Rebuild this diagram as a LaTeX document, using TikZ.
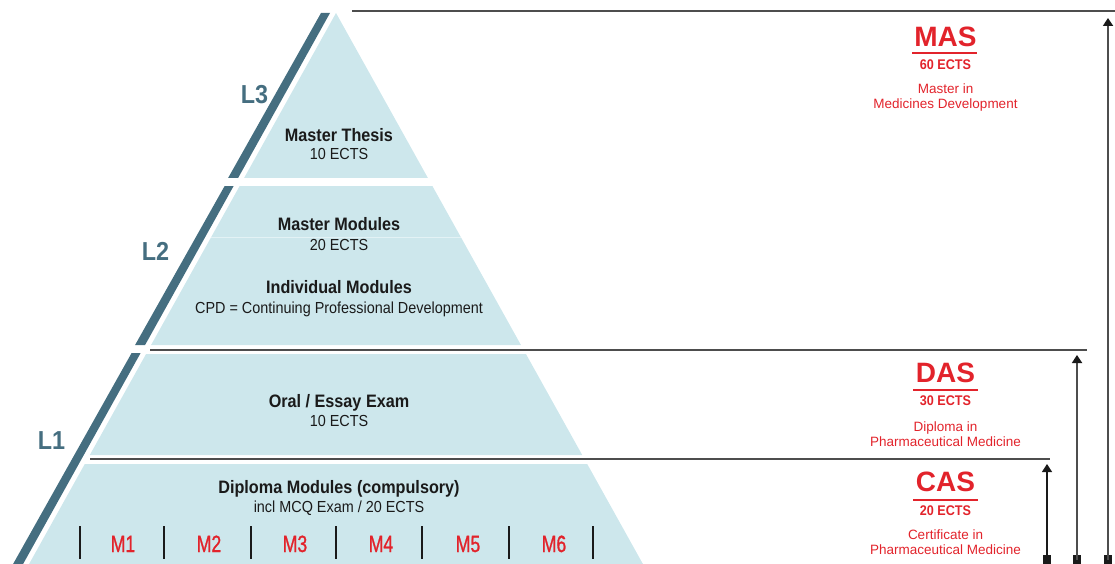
\documentclass[tikz,border=0pt]{standalone}
\usepackage{fontspec}
\setmainfont[FakeStretch=0.9]{Liberation Sans}
\newfontfamily\narrowfont[FakeStretch=0.75,FakeBold=1]{Liberation Sans}
\newfontfamily\widefont{Liberation Sans}
\usetikzlibrary{arrows.meta}
\definecolor{pyrblue}{RGB}{205,231,236}
\definecolor{lvlteal}{RGB}{69,110,128}
\definecolor{ectsred}{RGB}{226,35,43}
\definecolor{rulegray}{RGB}{77,77,77}
\definecolor{inkblack}{RGB}{26,26,26}
\tikzset{
  pyr/.style={fill=pyrblue},
  lvlbar/.style={fill=lvlteal},
  lbl/.style={inner sep=0pt, anchor=base},
  head/.style={lbl, text=inkblack, font=\bfseries\fontsize{18}{20}\selectfont},
  sub/.style={lbl, text=inkblack, font=\fontsize{16}{18}\selectfont},
  lvl/.style={lbl, text=lvlteal, font=\bfseries\fontsize{26}{28}\selectfont},
  modlbl/.style={lbl, text=ectsred, font=\narrowfont\fontsize{23.5}{25}\selectfont},
  deg/.style={lbl, text=ectsred, font=\widefont\bfseries\fontsize{28}{30}\selectfont},
  ects/.style={lbl, text=ectsred, font=\bfseries\fontsize{14}{16}\selectfont},
  degname/.style={lbl, text=ectsred, font=\widefont\fontsize{13.5}{15}\selectfont},
  hrule/.style={draw=rulegray, line width=1.5pt},
  sq/.style={fill=inkblack, minimum size=8.5pt, inner sep=0pt},
  uparr/.style={-{Triangle[length=8pt,width=10pt,color=inkblack]}, draw=rulegray, line width=1.8pt}
}
\begin{document}
\begin{tikzpicture}[x=1pt, y=-1pt]
  \useasboundingbox (0,0) rectangle (1115,564);
  % pyramid layers
  \foreach \ya/\yb in {13/178,186/345,354/455,464/564}{
    \pgfmathsetmacro\dxa{0.557*(\ya-13)}
    \pgfmathsetmacro\dxb{0.557*(\yb-13)}
    \fill[pyr] (336-\dxa,\ya) -- (336+\dxa,\ya) -- (336+\dxb,\yb) -- (336-\dxb,\yb) -- cycle;
  }
  \draw[white!45!pyrblue, line width=0.8pt] (211.2,237) -- (460.8,237);
  % level bars
  \foreach \ya/\yb in {13/178,186/345,353/564}{
    \pgfmathsetmacro\dxa{0.557*(\ya-13)}
    \pgfmathsetmacro\dxb{0.557*(\yb-13)}
    \fill[lvlbar] (336-\dxa-15,\ya) -- (336-\dxa-6,\ya) -- (336-\dxb-6,\yb) -- (336-\dxb-16,\yb) -- cycle;
  }
  \node[lvl] (l3) at (254.5,104) {L3};
  \node[lvl] (l2) at (155.5,260) {L2};
  \node[lvl] (l1) at (51.5,449.4) {L1};

  % pyramid texts
  \node[head] (thesis) at (339,142) {Master Thesis};
  \node[sub] (thesis ects) at (339,160) {10 ECTS};
  \node[head] (master mod) at (339,230) {Master Modules};
  \node[sub] (master ects) at (339,250) {20 ECTS};
  \node[head] (indiv mod) at (339,293.3) {Individual Modules};
  \node[sub] (cpd) at (339,313) {CPD = Continuing Professional Development};
  \node[head] (exam) at (339,407.3) {Oral / Essay Exam};
  \node[sub] (exam ects) at (339,426.9) {10 ECTS};
  \node[head] (diploma mod) at (339,493.2) {Diploma Modules (compulsory)};
  \node[sub] (mcq) at (339,512.4) {incl MCQ Exam / 20 ECTS};
  \foreach \x in {80,164,251,336,422,509,593}{
    \draw[inkblack, line width=1.6pt] (\x,526) -- (\x,559);
  }
  \foreach \i/\x in {1/123,2/209,3/295,4/381,5/468,6/554}{
    \node[modlbl] (m\i) at (\x,552) {M\i};
  }

  % level rules
  \draw[hrule] (352,11) -- (1115,11);
  \draw[hrule] (150,350) -- (1087,350);
  \draw[hrule] (90,459) -- (1050,459);

  % degrees
  \node[deg] (mas) at (945.5,46.7) {MAS};
  \draw[ectsred, line width=1.3pt] (912,53) -- (977,53);
  \node[ects] (mas ects) at (945.5,70) {60 ECTS};
  \node[degname] (mas name a) at (945.5,93.3) {Master in};
  \node[degname] (mas name b) at (945.5,108.3) {Medicines Development};

  \node[deg] (das) at (945.5,382) {DAS};
  \draw[ectsred, line width=1.3pt] (913,390) -- (978,390);
  \node[ects] (das ects) at (945.5,405.7) {30 ECTS};
  \node[degname] (das name a) at (945.5,431) {Diploma in};
  \node[degname] (das name b) at (945.5,446) {Pharmaceutical Medicine};

  \node[deg] (cas) at (945.5,491.5) {CAS};
  \draw[ectsred, line width=1.3pt] (913,500) -- (978,500);
  \node[ects] (cas ects) at (945.5,515.8) {20 ECTS};
  \node[degname] (cas name a) at (945.5,539.3) {Certificate in};
  \node[degname] (cas name b) at (945.5,554.5) {Pharmaceutical Medicine};

  % arrows
  \node[sq] (cas base) at (1047,559.7) {};
  \node[sq] (das base) at (1077,559.7) {};
  \node[sq] (mas base) at (1108,559.7) {};
  \coordinate (cas top) at (1047,464);
  \coordinate (das top) at (1077,355);
  \coordinate (mas top) at (1108,18);
  \draw[uparr, draw=inkblack, line width=1.2pt] (cas base.center) -- (cas top);
  \draw[uparr] (das base.center) -- (das top);
  \draw[uparr] (mas base.center) -- (mas top);
\end{tikzpicture}
\end{document}
